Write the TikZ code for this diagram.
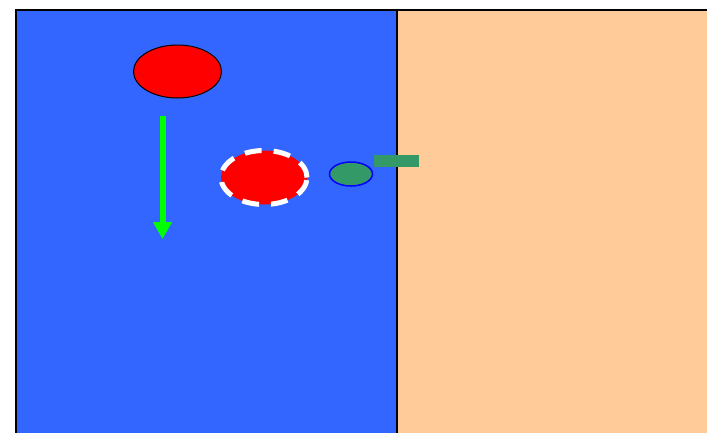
\documentclass[tikz,border=0pt]{standalone}
\usetikzlibrary{shapes.geometric,arrows.meta}
\definecolor{bgblue}{HTML}{3366FF}
\definecolor{peach}{HTML}{FFCC99}
\definecolor{teal}{HTML}{339966}
\definecolor{lime}{HTML}{00FF00}
\tikzset{
  redoval/.style={ellipse, fill=red, inner sep=0pt},
  panel/.style={draw=black, line width=2pt},
}
\begin{document}
\begin{tikzpicture}[x=1pt,y=-1pt]
\useasboundingbox (0,0) rectangle (707,432);
\begin{scope}
\clip (0,0) rectangle (707,432);
\fill[white] (0,0) rectangle (707,432);
\draw[panel, fill=peach] (397,10) rectangle (760,480);
\draw[panel, fill=bgblue] (16,10) rectangle (397,480);
\draw[black, line width=2pt] (397,10) -- (397,480);
\end{scope}
\node[redoval, draw=black, line width=1pt, minimum width=88pt, minimum height=53pt] (top) at (177.5,71.5) {};
\coordinate (astart) at (162.5,116);
\coordinate (aend) at (162.5,239);
\draw[lime, line width=6pt, -{Triangle[length=17pt,width=18pt]}] (astart) -- (aend);
\node[redoval, draw=white, line width=5pt, dash pattern=on 17pt off 12pt, minimum width=86pt, minimum height=54pt] (mid) at (264,177.5) {};
\node[ellipse, fill=teal, draw=blue, line width=1.5pt, inner sep=0pt, minimum width=43pt, minimum height=24pt] (small) at (351,174) {};
\node[rectangle, fill=teal, inner sep=0pt, minimum width=45pt, minimum height=12pt] (bar) at (396.5,161) {};
\end{tikzpicture}
\end{document}
